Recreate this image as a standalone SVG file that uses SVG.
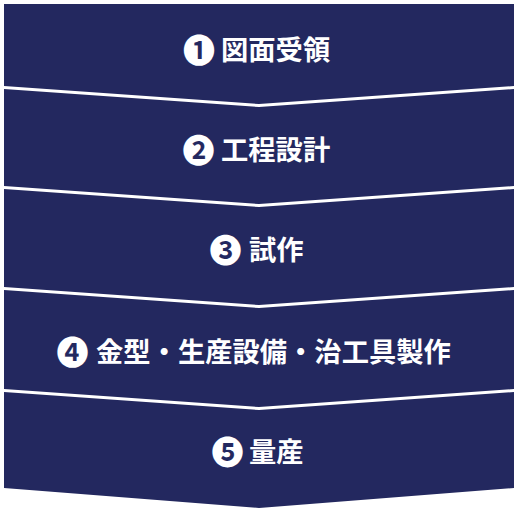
<svg xmlns="http://www.w3.org/2000/svg" width="518" height="512" viewBox="0 0 518 512">
<style>
.band{fill:#23285f}
.num{fill:#fff;font-family:"Noto Sans CJK JP","DejaVu Sans",sans-serif;font-size:32px;font-weight:700;text-anchor:middle}
.lbl{fill:#fff;font-family:"Noto Sans CJK JP","Noto Sans CJK SC",sans-serif;font-size:27.3px;font-weight:700}
</style>
<rect width="518" height="512" fill="#fff"/>
<g id="step1">
<polygon class="band" points="4,4 514,4 514,86 259,104 4,86"/>
<text class="num" x="199" y="61.5">❶</text>
<text class="lbl" x="221" y="60">図面受領</text>
</g>
<g id="step2">
<polygon class="band" points="4,89 259,107 514,89 514,186 259,204 4,186"/>
<text class="num" x="198.5" y="161.5">❷</text>
<text class="lbl" x="221" y="160">工程設計</text>
</g>
<g id="step3">
<polygon class="band" points="4,189 259,207 514,189 514,287 259,305 4,287"/>
<text class="num" x="225.5" y="261.5">❸</text>
<text class="lbl" x="249" y="260">試作</text>
</g>
<g id="step4">
<polygon class="band" points="4,290 259,308 514,290 514,389 259,407 4,389"/>
<text class="num" x="72.5" y="363.5">❹</text>
<text class="lbl" x="96" y="362">金型・生産設備・治工具製作</text>
</g>
<g id="step5">
<polygon class="band" points="4,392 259,410 514,392 514,488 259,508 4,488"/>
<text class="num" x="227.5" y="463.5">❺</text>
<text class="lbl" x="249" y="462">量産</text>
</g>
<g id="connectors"/>
</svg>
